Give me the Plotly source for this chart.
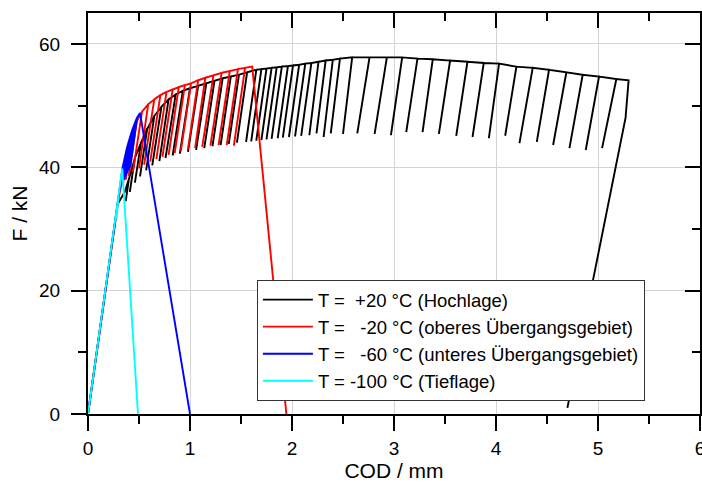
import plotly.graph_objects as go

# ---------------- data ----------------
# T = +20 °C (black)
black_load_cod = [0.0, 0.29, 0.36]
black_load_F = [0.0, 34.0, 36.0]
black_peak_cod = [0.40, 0.46, 0.52, 0.58, 0.65, 0.72, 0.79, 0.86, 0.93, 1.00,
                  1.08, 1.16, 1.24, 1.32, 1.40, 1.48, 1.56, 1.65, 1.70, 1.75,
                  1.80, 1.85, 1.90, 1.96, 2.01, 2.07, 2.13, 2.19, 2.26, 2.33,
                  2.40, 2.47, 2.59, 2.76, 2.93, 3.08, 3.23, 3.38, 3.55, 3.72,
                  3.88, 4.03, 4.20, 4.36, 4.52, 4.69, 4.85, 5.01, 5.18]
black_peak_F = [38.0, 41.5, 44.0, 46.2, 48.3, 49.8, 51.0, 51.8, 52.4, 52.8,
                53.2, 53.6, 54.0, 54.4, 54.7, 55.0, 55.4, 55.8, 55.9, 56.0,
                56.1, 56.2, 56.3, 56.4, 56.5, 56.6, 56.8, 56.9, 57.1, 57.3,
                57.4, 57.6, 57.8, 57.8, 57.8, 57.8, 57.6, 57.5, 57.3, 57.1,
                56.9, 56.8, 56.3, 56.1, 55.8, 55.4, 55.0, 54.7, 54.3]
black_min_cod = [0.37, 0.41, 0.46, 0.51, 0.57, 0.63, 0.70, 0.76, 0.83, 0.90,
                 0.98, 1.06, 1.14, 1.22, 1.30, 1.38, 1.46, 1.55, 1.60, 1.65,
                 1.70, 1.75, 1.80, 1.86, 1.91, 1.97, 2.03, 2.09, 2.17, 2.24,
                 2.31, 2.38, 2.50, 2.64, 2.81, 2.97, 3.12, 3.28, 3.44, 3.61,
                 3.77, 3.93, 4.09, 4.23, 4.40, 4.56, 4.72, 4.88, 5.04]
black_min_F = [34.5, 36.0, 37.5, 38.5, 39.5, 40.3, 41.0, 41.5, 41.9, 42.2,
               42.5, 42.8, 43.1, 43.4, 43.6, 43.8, 44.0, 44.1, 44.2, 44.3,
               44.4, 44.5, 44.6, 44.7, 44.8, 44.9, 45.0, 45.1, 45.2, 45.5,
               44.9, 45.5, 45.4, 45.5, 45.4, 45.2, 45.7, 45.7, 45.4, 45.1,
               44.9, 44.7, 45.1, 43.9, 44.1, 43.6, 43.1, 42.8, 43.1]
black_end_cod = [5.30, 5.27, 4.70]
black_end_F = [54.1, 48.0, 1.0]

# T = -20 °C (red)
red_load_cod = [0.0, 0.30, 0.35]
red_load_F = [0.0, 35.0, 39.0]
red_peak_cod = [0.38, 0.43, 0.48, 0.53, 0.59, 0.65, 0.71, 0.77, 0.83, 0.89,
                0.95, 1.01, 1.08, 1.15, 1.23, 1.31, 1.39, 1.47, 1.54]
red_peak_F = [41.5, 45.0, 47.5, 49.0, 50.2, 51.0, 51.7, 52.2, 52.6, 53.0,
              53.3, 53.6, 54.1, 54.5, 54.9, 55.3, 55.6, 55.9, 56.1]
red_min_cod = [0.345, 0.37, 0.40, 0.44, 0.50, 0.55, 0.61, 0.67, 0.73, 0.79,
               0.85, 0.91, 0.98, 1.05, 1.12, 1.20, 1.28, 1.36, 1.43]
red_min_F = [37.5, 38.0, 38.6, 39.2, 39.8, 40.4, 40.9, 41.3, 41.7, 42.0,
             42.3, 42.6, 42.9, 43.1, 43.3, 43.5, 43.6, 43.6, 43.5]
red_end_cod = [1.61, 1.945]
red_end_F = [56.3, 0.0]

# T = -60 °C (blue)
blue_load_cod = [0.0, 0.32]
blue_load_F = [0.0, 38.0]
blue_peak_cod = [0.34, 0.36, 0.38, 0.40, 0.42, 0.44, 0.46, 0.48]
blue_peak_F = [40.0, 41.5, 43.0, 44.2, 45.3, 46.3, 47.2, 48.0]
blue_min_cod = [0.31, 0.325, 0.34, 0.355, 0.37, 0.385, 0.40, 0.415]
blue_min_F = [36.5, 37.0, 37.5, 38.0, 38.5, 39.0, 39.5, 40.0]
blue_end_cod = [0.51, 1.0]
blue_end_F = [48.8, 0.0]

# T = -100 °C (cyan)
cyan_load_cod = [0.0, 0.30]
cyan_load_F = [0.0, 35.5]
cyan_peak_cod = [0.30]
cyan_peak_F = [35.5]
cyan_min_cod = [0.28]
cyan_min_F = [31.5]
cyan_end_cod = [0.336, 0.49]
cyan_end_F = [39.8, 0.0]

names = ["T =\u00a0\u00a0+20 °C (Hochlage)",
         "T =\u00a0\u00a0\u00a0-20 °C (oberes Übergangsgebiet)",
         "T =\u00a0\u00a0\u00a0-60 °C (unteres Übergangsgebiet)",
         "T = -100 °C (Tieflage)"]
colors = ["#000000", "#ff0000", "#0000ff", "#00ffff"]

x_ticks = [0, 1, 2, 3, 4, 5, 6]
y_ticks = [0, 20, 40, 60]
x_minor = [0.5, 1.5, 2.5, 3.5, 4.5, 5.5]
y_minor = [10, 30, 50]


def build(load_c, load_f, pk_c, pk_f, mn_c, mn_f, end_c, end_f):
    xs, ys = list(load_c), list(load_f)
    for pc, pf, mc, mf in zip(pk_c, pk_f, mn_c, mn_f):
        xs += [pc, mc, pc]
        ys += [pf, mf, pf]
    xs += list(end_c)
    ys += list(end_f)
    return xs, ys


series = [
    build(black_load_cod, black_load_F, black_peak_cod, black_peak_F,
          black_min_cod, black_min_F, black_end_cod, black_end_F),
    build(red_load_cod, red_load_F, red_peak_cod, red_peak_F,
          red_min_cod, red_min_F, red_end_cod, red_end_F),
    build(blue_load_cod, blue_load_F, blue_peak_cod, blue_peak_F,
          blue_min_cod, blue_min_F, blue_end_cod, blue_end_F),
    build(cyan_load_cod, cyan_load_F, cyan_peak_cod, cyan_peak_F,
          cyan_min_cod, cyan_min_F, cyan_end_cod, cyan_end_F),
]

FONT = "Arial, Liberation Sans, sans-serif"

fig = go.Figure()
for (xs, ys), name, col in zip(series, names, colors):
    fig.add_trace(go.Scatter(x=xs, y=ys, mode="lines", name=name,
                             line=dict(color=col, width=1.9),
                             hoverinfo="skip"))

# helper traces so the top / right tick axes get drawn
fig.add_trace(go.Scatter(x=[None], y=[None], xaxis="x2", yaxis="y",
                         showlegend=False, hoverinfo="skip"))
fig.add_trace(go.Scatter(x=[None], y=[None], xaxis="x", yaxis="y2",
                         showlegend=False, hoverinfo="skip"))

tick_style = dict(ticklen=15, tickwidth=2, tickcolor="#000000")
minor_out = dict(ticks="outside", ticklen=8, tickwidth=2,
                 tickcolor="#000000", showgrid=False)
minor_in = dict(ticks="inside", ticklen=8, tickwidth=2,
                tickcolor="#000000", showgrid=False)

fig.update_layout(
    template="none",
    width=702, height=484,
    margin=dict(l=88, r=2, t=13, b=70),
    paper_bgcolor="white", plot_bgcolor="white",
    font=dict(family=FONT, size=19, color="black"),
    xaxis=dict(range=[0, 6], tickvals=x_ticks, ticks="outside",
               minor=dict(tickvals=x_minor, **minor_out), **tick_style,
               showline=True, linecolor="black", linewidth=2, mirror=True,
               zeroline=False, showgrid=True, gridcolor="#d4d4d4",
               gridwidth=1.2, ticklabeloverflow="allow",
               ticklabelstandoff=1,
               title=dict(text="COD / mm", font=dict(size=21), standoff=4)),
    yaxis=dict(range=[0, 65], tickvals=y_ticks, ticks="outside",
               minor=dict(tickvals=y_minor, **minor_out), **tick_style,
               showline=True, linecolor="black", linewidth=2, mirror=True,
               zeroline=False, showgrid=True, gridcolor="#d4d4d4",
               gridwidth=1.2, ticklabelstandoff=7,
               title=dict(text="F / kN", font=dict(size=21), standoff=6)),
    xaxis2=dict(range=[0, 6], overlaying="x", side="top", anchor="y",
                tickvals=x_ticks, ticks="inside",
                minor=dict(tickvals=x_minor, **minor_in), **tick_style,
                showticklabels=False, showgrid=False, zeroline=False,
                showline=False),
    yaxis2=dict(range=[0, 65], overlaying="y", side="right", anchor="x",
                tickvals=y_ticks, ticks="inside",
                minor=dict(tickvals=y_minor, **minor_in), **tick_style,
                showticklabels=False, showgrid=False, zeroline=False,
                showline=False),
    legend=dict(x=0.276, y=0.334, xanchor="left", yanchor="top",
                bgcolor="white", bordercolor="#333333", borderwidth=1,
                font=dict(size=18.5), itemwidth=50),
    showlegend=True,
)

fig.write_html("out.html")
